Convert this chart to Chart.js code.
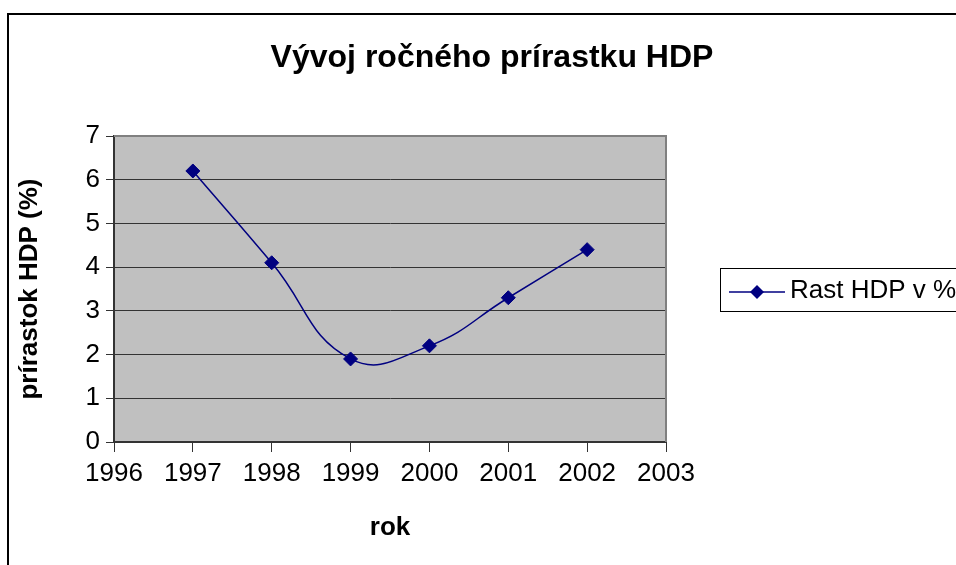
<!DOCTYPE html>
<html>
<head>
<meta charset="utf-8">
<title>Vývoj ročného prírastku HDP</title>
<script src="https://cdn.jsdelivr.net/npm/chart.js@4"></script>
<style>
  html, body { margin: 0; padding: 0; background: #fff; overflow: hidden; }
  canvas { display: block; }
</style>
</head>
<body>
<canvas id="hdpChart" width="956" height="565"></canvas>
<script>
// data
const years = [1997, 1998, 1999, 2000, 2001, 2002];
const growth = [6.2, 4.1, 1.9, 2.2, 3.3, 4.4];
const xRange = [1996, 2003];
const yRange = [0, 7];

const chartTitle = "Vývoj ročného prírastku HDP";
const seriesName = "Rast HDP v %";
const xTitle = "rok";
const yTitle = "prírastok HDP (%)";

const FONT = "'Liberation Sans', Arial, sans-serif";
const NAVY = "#000080";

Chart.defaults.font.family = FONT;
Chart.defaults.color = "#000";

// grey plot area, outer frame, title and the boxed legend (excel look)
const excelLook = {
  id: "excelLook",
  beforeDraw(chart) {
    const { ctx, chartArea: a } = chart;
    ctx.save();
    ctx.fillStyle = "#c0c0c0";
    ctx.fillRect(a.left, a.top, a.right - a.left, a.bottom - a.top);
    ctx.restore();
  },
  beforeDatasetsDraw(chart) {
    const { ctx, chartArea: a } = chart;
    ctx.save();
    ctx.strokeStyle = "#808080";
    ctx.lineWidth = 2;
    ctx.beginPath();
    ctx.moveTo(a.left, a.top);
    ctx.lineTo(a.right, a.top);
    ctx.lineTo(a.right, a.bottom);
    ctx.stroke();
    ctx.restore();
  },
  afterDraw(chart) {
    const ctx = chart.ctx;
    ctx.save();

    // frame
    ctx.strokeStyle = "#000";
    ctx.lineWidth = 2;
    ctx.strokeRect(8, 14, 980, 600);

    // title
    ctx.fillStyle = "#000";
    ctx.font = "bold 32px " + FONT;
    ctx.textAlign = "center";
    ctx.textBaseline = "middle";
    ctx.fillText(chartTitle, 492, 58);

    // legend
    const ds = chart.data.datasets[0];
    ctx.lineWidth = 1;
    ctx.strokeStyle = "#000";
    ctx.strokeRect(720.5, 268.5, 260, 43);
    ctx.strokeStyle = ds.borderColor;
    ctx.lineWidth = ds.borderWidth;
    ctx.beginPath();
    ctx.moveTo(729, 292);
    ctx.lineTo(785, 292);
    ctx.stroke();
    ctx.fillStyle = ds.borderColor;
    ctx.beginPath();
    ctx.moveTo(757, 285); ctx.lineTo(764, 292); ctx.lineTo(757, 299); ctx.lineTo(750, 292);
    ctx.closePath();
    ctx.fill();
    ctx.fillStyle = "#000";
    ctx.font = "26px " + FONT;
    ctx.textAlign = "left";
    ctx.fillText(ds.label, 790, 291);

    ctx.restore();
  }
};

new Chart(document.getElementById("hdpChart"), {
  type: "line",
  data: {
    datasets: [
      {
        label: seriesName,
        data: years.map((y, i) => ({ x: y, y: growth[i] })),
        borderColor: NAVY,
        backgroundColor: NAVY,
        borderWidth: 1.5,
        tension: 0.45,
        pointStyle: "rectRot",
        pointRadius: 7,
        pointBorderWidth: 1,
        pointBackgroundColor: NAVY,
        pointBorderColor: NAVY,
      },
    ],
  },
  options: {
    responsive: false,
    animation: false,
    devicePixelRatio: 1,
    layout: { padding: { left: 0, top: 136, right: 290, bottom: 0 } },
    plugins: {
      legend: { display: false },
      title: { display: false },
      tooltip: { enabled: false },
    },
    scales: {
      x: {
        type: "linear",
        min: xRange[0],
        max: xRange[1],
        afterFit: (s) => { s.height = 123; },
        ticks: {
          stepSize: 1,
          padding: 6,
          font: { size: 26 },
          color: "#000",
          maxRotation: 0,
          callback: (v) => String(v),
        },
        grid: { drawOnChartArea: false, tickLength: 10, color: "#333", lineWidth: 1 },
        border: { color: "#333", width: 2 },
        title: {
          display: true,
          text: xTitle,
          font: { size: 26, weight: "bold" },
          color: "#000",
          padding: { top: 0, bottom: 22 },
        },
      },
      y: {
        min: yRange[0],
        max: yRange[1],
        afterFit: (s) => { s.width = 114; },
        ticks: { stepSize: 1, padding: 6, font: { size: 26 }, color: "#000" },
        grid: { color: "#333", lineWidth: 1, tickLength: 8 },
        border: { color: "#333", width: 2 },
        title: {
          display: true,
          text: yTitle,
          font: { size: 26, weight: "bold" },
          color: "#000",
          padding: { top: 14, bottom: 0 },
        },
      },
    },
  },
  plugins: [excelLook],
});
</script>
</body>
</html>
